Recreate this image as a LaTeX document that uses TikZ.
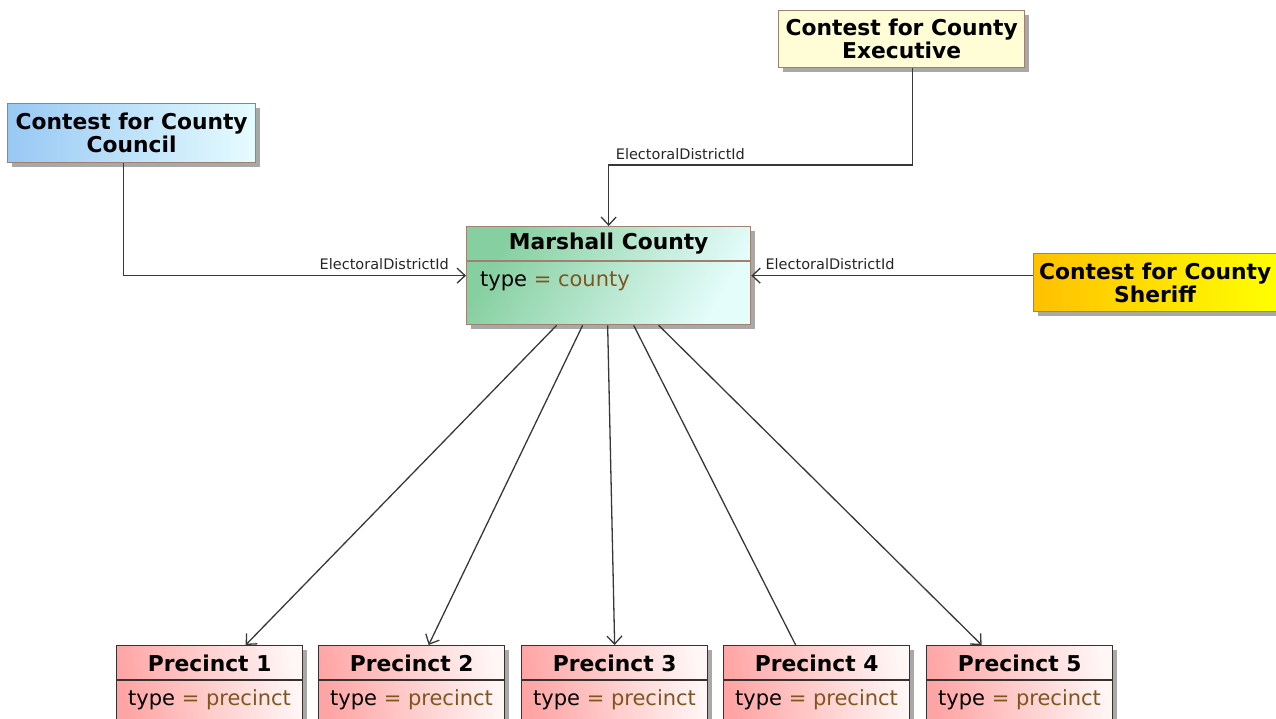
\documentclass[tikz,border=0pt]{standalone}
\usepackage{fontspec}
\setmainfont{DejaVu Sans}
\usetikzlibrary{arrows.meta,shadows,calc}
\definecolor{bordc}{HTML}{A08070}
\definecolor{pbord}{HTML}{3A3030}
\definecolor{linec}{HTML}{383838}
\definecolor{shadowc}{HTML}{A8A8A8}
\definecolor{valc}{HTML}{7F5520}
\definecolor{councilL}{HTML}{98C8F4}
\definecolor{councilR}{HTML}{E6FCFF}
\definecolor{execc}{HTML}{FEFDD6}
\definecolor{sherL}{HTML}{FFC000}
\definecolor{sherR}{HTML}{FFFF00}
\definecolor{countyL}{HTML}{86CFA0}
\definecolor{countyR}{HTML}{E4FCFA}
\definecolor{precL}{HTML}{FFA4A4}
\definecolor{precR}{HTML}{FFF6F6}
\tikzset{
  box/.style={draw=bordc, line width=1.3pt, inner sep=0pt, anchor=north west,
    drop shadow={shadow xshift=4pt, shadow yshift=-4pt, fill=shadowc, opacity=1}},
  pbox/.style={box, draw=pbord, minimum width=186pt, minimum height=95pt,
    left color=precL, right color=precR, shading angle=100},
  ttl/.style={font=\fontsize{21.8}{23}\selectfont\bfseries, align=center, inner sep=0pt},
  attr/.style={font=\fontsize{21}{23}\selectfont, anchor=west, inner sep=0pt},
  lbl/.style={font=\fontsize{14.5}{16}\selectfont, text=black!85, inner sep=0pt},
  conn/.style={draw=linec, line width=1.3pt},
  arr/.style={conn, -{Straight Barb[length=8pt,width=15pt]}}
}
\begin{document}
\begin{tikzpicture}[x=1pt,y=-1pt]
\useasboundingbox (0,0) rectangle (1276,719);
\clip (0,0) rectangle (1276,719);
% contest boxes
\node[box, minimum width=248pt, minimum height=59pt, left color=councilL, right color=councilR] (council) at (7,103) {};
\node[ttl] (councilt) at (council.center) {Contest for County\\Council};
\node[box, minimum width=246pt, minimum height=57pt, fill=execc] (exec) at (778,10) {};
\node[ttl] (exect) at (exec.center) {Contest for County\\Executive};
\node[box, minimum width=243pt, minimum height=58pt, left color=sherL, right color=sherR] (sheriff) at (1033,253) {};
\node[ttl] (sherifft) at (sheriff.center) {Contest for County\\Sheriff};
% county
\node[box, minimum width=284pt, minimum height=98pt, left color=countyL, right color=countyR, shading angle=60] (county) at (466,226) {};
\node[ttl] (countyt) at ($(county.north)+(0,18)$) {Marshall County};
\draw[bordc, line width=1.3pt] ($(county.north west)+(0,35)$) coordinate (cdl) -- ($(county.north east)+(0,35)$) coordinate (cdr);
\node[attr] (countya) at ($(county.north west)+(14,55)$) {type \textcolor{valc}{= county}};
% precincts
\foreach \i/\x in {1/116,2/318,3/521,4/723,5/926}{
  \node[pbox] (p\i) at (\x,645) {};
  \node[ttl] (p\i t) at ($(p\i.north)+(0,18)$) {Precinct \i};
  \draw[pbord, line width=1.3pt] ($(p\i.north west)+(0,35)$) coordinate (p\i dl) -- ($(p\i.north east)+(0,35)$) coordinate (p\i dr);
  \node[attr] (p\i a) at ($(p\i.north west)+(12,55)$) {type \textcolor{valc}{= precinct}};
}
% connectors
\draw[arr] ([xshift=-8pt]council.south) |- (county.west);
\node[lbl, anchor=south east] (l1) at ($(county.west)+(-17,-6)$) {ElectoralDistrictId};
\draw[arr] ([xshift=11pt]exec.south) |- ($(county.north)+(0,-61)$) coordinate (ebend) -- (county.north);
\node[lbl, anchor=south west] (l2) at ($(ebend)+(7,-5)$) {ElectoralDistrictId};
\draw[arr] (sheriff.west |- county.east) -- (county.east);
\node[lbl, anchor=south west] (l3) at ($(county.east)+(14,-6)$) {ElectoralDistrictId};
\draw[arr] ([xshift=-52pt]county.south) -- ([xshift=36pt]p1.north);
\draw[arr] ([xshift=-26pt]county.south) -- ([xshift=17pt]p2.north);
\draw[arr] ([xshift=-1pt]county.south) -- ([xshift=0pt]p3.north);
\draw[conn] ([xshift=25pt]county.south) -- ([xshift=-21pt]p4.north);
\draw[arr] ([xshift=50pt]county.south) -- ([xshift=-38pt]p5.north);
\end{tikzpicture}
\end{document}
